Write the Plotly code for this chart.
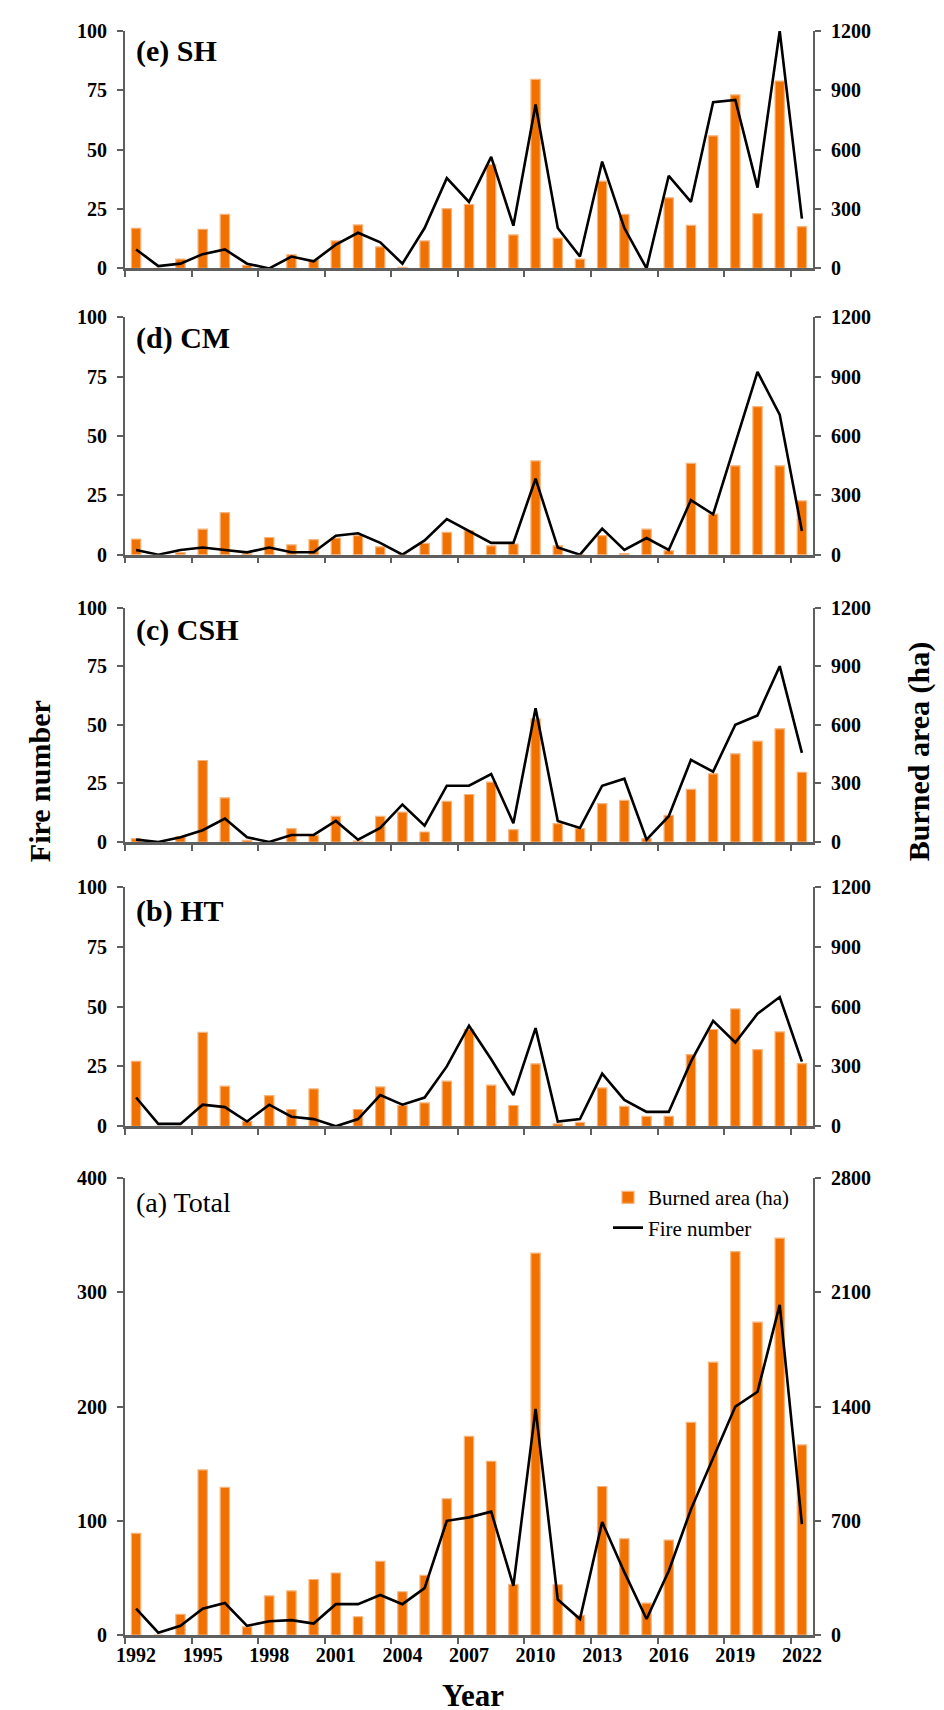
import plotly.graph_objects as go

years = list(range(1992, 2023))

# (e) SH
sh_area = [203, 0, 47, 198, 273, 15, 0, 69, 42, 139, 220, 109, 5, 139, 302, 323, 525, 169, 955, 153, 47, 441, 273, 0, 357, 218, 670, 877, 277, 947, 211]
sh_fire = [8, 1, 2, 6, 8, 2, 0, 5, 3, 10, 15, 11, 2, 17, 38, 28, 47, 18, 69, 17, 5, 45, 17, 0, 39, 28, 70, 71, 34, 100, 21]
# (d) CM
cm_area = [79, 0, 10, 129, 213, 5, 87, 50, 76, 84, 96, 40, 0, 57, 113, 121, 45, 54, 474, 45, 0, 96, 5, 129, 20, 462, 205, 449, 748, 449, 272]
cm_fire = [2, 0, 2, 3, 2, 1, 3, 1, 1, 8, 9, 5, 0, 6, 15, 10, 5, 5, 32, 3, 0, 11, 2, 7, 2, 23, 17, 47, 77, 59, 10]
# (c) CSH
csh_area = [17, 0, 26, 417, 226, 8, 0, 68, 34, 131, 5, 131, 153, 51, 208, 243, 306, 63, 630, 94, 68, 196, 213, 17, 136, 269, 349, 451, 516, 579, 357]
csh_fire = [1, 0, 2, 5, 10, 2, 0, 3, 3, 9, 1, 6, 16, 7, 24, 24, 29, 8, 57, 9, 6, 24, 27, 1, 11, 35, 30, 50, 54, 75, 38]
# (b) HT
ht_area = [326, 0, 0, 471, 201, 25, 154, 84, 187, 0, 84, 197, 104, 117, 226, 485, 206, 104, 313, 12, 20, 192, 100, 50, 50, 359, 485, 588, 384, 473, 314]
ht_fire = [12, 1, 1, 9, 8, 2, 9, 4, 3, 0, 3, 13, 9, 12, 25, 42, 28, 13, 41, 2, 3, 22, 11, 6, 6, 27, 44, 35, 47, 54, 27]
# (a) Total
tot_area = [623, 0, 127, 1012, 905, 50, 240, 270, 340, 380, 112, 452, 265, 365, 835, 1217, 1065, 310, 2340, 308, 120, 910, 590, 195, 582, 1303, 1672, 2350, 1917, 2432, 1165]
tot_fire = [23, 2, 8, 23, 28, 8, 12, 13, 10, 27, 27, 35, 27, 41, 100, 103, 108, 43, 198, 31, 14, 99, 55, 14, 56, 110, 155, 200, 213, 289, 97]

x_tick_years = list(range(1992, 2023, 3))

# pixel geometry
W, H = 944, 1710
L, R, T, B = 117, 805, 19, 1627
PH = B - T

def py(px):
    return (B - px) / PH

def px_x(px):
    return (px - L) / (R - L)

panels = [
    # label, fire, area, fire max, fire dtick, area max, area dtick, top px, bottom px, bold, label y px
    ("(a) Total", tot_fire, tot_area, 400, 100, 2800, 700, 1169, 1627, False, 1193),
    ("(b) HT", ht_fire, ht_area, 100, 25, 1200, 300, 877, 1117, True, 901),
    ("(c) CSH", csh_fire, csh_area, 100, 25, 1200, 300, 597, 832, True, 619),
    ("(d) CM", cm_fire, cm_area, 100, 25, 1200, 300, 306, 544, True, 327),
    ("(e) SH", sh_fire, sh_area, 100, 25, 1200, 300, 19, 257, True, 39),
]

BAR = "#F07000"
AX = "#5f5f5f"
FONT = "Liberation Serif"
tickfont = dict(family=FONT, size=20, color="black", weight="bold")

fig = go.Figure()
layout = {}
annotations = []

for i, (label, fire, area, fmax, fdt, amax, adt, top, bot, bold, ly) in enumerate(panels):
    xn = "" if i == 0 else str(i + 1)
    yb = str(2 * i + 1) if i > 0 else ""
    yl = str(2 * i + 2)
    first = i == 0
    fig.add_trace(go.Bar(
        x=years, y=area, name="Burned area (ha)", width=0.42,
        marker=dict(color=BAR, line=dict(color="#F8B47C", width=1.2)),
        xaxis="x" + xn, yaxis="y" + yb, showlegend=first,
    ))
    fig.add_trace(go.Scatter(
        x=years, y=fire, name="Fire number", mode="lines",
        line=dict(color="black", width=2.6),
        xaxis="x" + xn, yaxis="y" + yl, showlegend=first,
    ))
    dom = [py(bot), py(top)]
    layout["xaxis" + xn] = dict(
        domain=[0, 1], anchor="y" + yb, range=[1991.5, 2022.5],
        tickmode="array", tickvals=x_tick_years,
        ticktext=[str(v) for v in x_tick_years] if first else [""] * len(x_tick_years),
        showticklabels=first, ticks="",
        minor=dict(ticks="outside", tickmode="linear", tick0=1991.5, dtick=3, ticklen=6,
                   tickcolor=AX, tickwidth=2),
        showline=True, linecolor=AX, linewidth=2.5, showgrid=False, zeroline=False,
        tickfont=tickfont,
    )
    layout["yaxis" + yb] = dict(
        domain=dom, anchor="x" + xn, side="right", range=[0, amax],
        tickmode="linear", tick0=0, dtick=adt,
        showline=True, linecolor=AX, linewidth=2, ticks="outside", ticklen=6,
        tickcolor=AX, tickwidth=2, showgrid=False, zeroline=False,
        tickfont=tickfont, ticklabelstandoff=6,
    )
    layout["yaxis" + yl] = dict(
        domain=dom, anchor="x" + xn, overlaying="y" + yb, side="left", range=[0, fmax],
        tickmode="linear", tick0=0, dtick=fdt,
        showline=True, linecolor=AX, linewidth=2, ticks="outside", ticklen=6,
        tickcolor=AX, tickwidth=2, showgrid=False, zeroline=False,
        tickfont=tickfont, ticklabelstandoff=6,
    )
    annotations.append(dict(
        text=label, xref="paper", yref="paper", x=px_x(126), y=py(ly),
        xanchor="left", yanchor="middle", showarrow=False,
        font=dict(family=FONT, size=30 if bold else 28, color="black",
                  weight="bold" if bold else "normal"),
    ))

annotations += [
    dict(text="Fire number", xref="paper", yref="paper", x=px_x(31), y=py(771),
         xanchor="center", yanchor="middle", textangle=-90, showarrow=False,
         font=dict(family=FONT, size=30, color="black", weight="bold")),
    dict(text="Burned area (ha)", xref="paper", yref="paper", x=px_x(911), y=py(742),
         xanchor="center", yanchor="middle", textangle=-90, showarrow=False,
         font=dict(family=FONT, size=30, color="black", weight="bold")),
    dict(text="Year", xref="paper", yref="paper", x=px_x(465), y=py(1688),
         xanchor="center", yanchor="middle", showarrow=False,
         font=dict(family=FONT, size=31, color="black", weight="bold")),
]

fig.update_layout(
    width=W, height=H,
    margin=dict(l=L, r=W - R, t=T, b=H - B, pad=0),
    paper_bgcolor="white", plot_bgcolor="white",
    barmode="overlay",
    showlegend=True,
    legend=dict(x=px_x(600), y=py(1168), xanchor="left", yanchor="top",
                font=dict(family=FONT, size=21, color="black"),
                bgcolor="rgba(0,0,0,0)", itemwidth=30, tracegroupgap=0),
    annotations=annotations,
    **layout,
)

fig.write_html("out.html")
